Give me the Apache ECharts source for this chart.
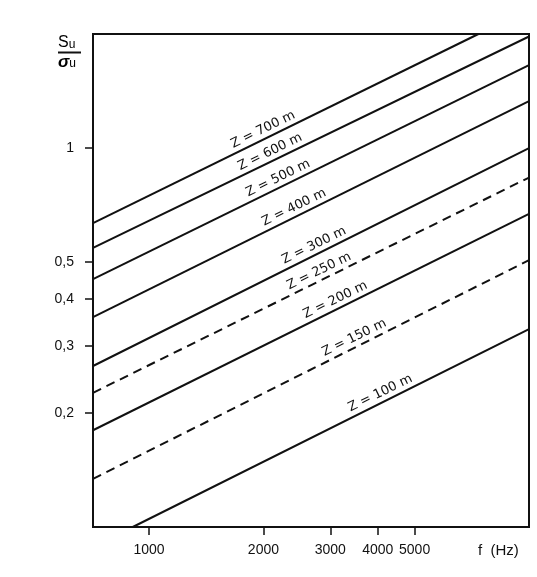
<!DOCTYPE html>
<html>
<head>
<meta charset="utf-8">
<script src="https://cdn.jsdelivr.net/npm/echarts@6/dist/echarts.min.js"></script>
<style>
  html, body { margin: 0; padding: 0; background: #fff; }
  #chart { width: 537px; height: 577px; }
</style>
</head>
<body>
<div id="chart"></div>
<script>
// Z levels, each drawn as a straight line on the log-log grid
const zLevels = [700, 600, 500, 400, 300, 250, 200, 150, 100];
// line end points (f in Hz, Su/σu)
const startF = [712, 712, 712, 712, 712, 712, 712, 712, 906];
const startV = [0.634, 0.545, 0.451, 0.358, 0.266, 0.226, 0.180, 0.134, 0.1];
const endF = [7360, 10000, 10000, 10000, 10000, 10000, 10000, 10000, 10000];
const endV = [2.0, 1.97, 1.656, 1.33, 1.0, 0.836, 0.670, 0.506, 0.333];
// where along each line the "Z = ... m" text sits
const labelF = [2045, 2133, 2240, 2467, 2785, 2872, 3168, 3553, 4160];
// tick labels
const xTicks = [1000, 2000, 3000, 4000, 5000];
const yTicks = [0.2, 0.3, 0.4, 0.5, 1];
const dashedLevels = [250, 150];

const FONT = "'Liberation Sans', Arial, sans-serif";
const myChart = echarts.init(document.getElementById("chart"));

// value on a line at frequency f (straight line in log-log)
function lineValueAt(i, f) {
    const t = Math.log(f / startF[i]) / Math.log(endF[i] / startF[i]);
    return Math.exp(Math.log(startV[i]) + t * Math.log(endV[i] / startV[i]));
}

const series = zLevels.map((z, i) => ({
    name: "Z = " + z + " m",
    type: "line",
    data: [[startF[i], startV[i]], [endF[i], endV[i]]],
    symbol: "none",
    silent: true,
    lineStyle: {
        color: "#111",
        width: 2,
        type: dashedLevels.includes(z) ? [9, 6] : "solid",
    },
    markPoint: {
        symbol: "circle",
        symbolSize: 0,
        silent: true,
        data: [{
            coord: [labelF[i], lineValueAt(i, labelF[i])],
            label: {
                show: true,
                formatter: "Z = " + z + " m",
                position: "inside",
                rotate: 26,
                offset: [0, -9],
                color: "#111",
                fontSize: 13,
                fontFamily: "'DejaVu Sans', sans-serif",
            },
        }],
    },
}));

const option = {
    animation: false,
    grid: {
        left: 93,
        right: 8,
        top: 34,
        bottom: 50,
        show: true,
        borderColor: "#111",
        borderWidth: 2,
    },
    xAxis: {
        type: "log",
        logBase: 10,
        min: 712,
        max: 10000,
        axisLine: { show: true, lineStyle: { color: "#111", width: 2 } },
        axisTick: { show: true, customValues: xTicks, length: 8, lineStyle: { color: "#111", width: 1.5 } },
        minorTick: { show: false },
        splitLine: { show: false },
        axisLabel: {
            customValues: xTicks,
            margin: 16,
            color: "#111",
            fontSize: 14,
            fontFamily: FONT,
            formatter: (v) => String(v),
        },
    },
    yAxis: {
        type: "log",
        logBase: 10,
        min: 0.1,
        max: 2,
        axisLine: { show: true, lineStyle: { color: "#111", width: 2 } },
        axisTick: { show: true, customValues: yTicks, length: 8, lineStyle: { color: "#111", width: 1.5 } },
        minorTick: { show: false },
        splitLine: { show: false },
        axisLabel: {
            customValues: yTicks,
            margin: 19,
            color: "#111",
            fontSize: 14,
            fontFamily: FONT,
            formatter: (v) => String(v).replace(".", ","),
        },
    },
    graphic: [
        {
            // axis title Su / σu
            type: "text",
            left: 58,
            top: 35,
            style: {
                text: "{s|S}{u|u}\n{bar|}\n{g|σ}{u|u}",
                rich: {
                    s: { fontSize: 16, fontFamily: FONT, color: "#111", lineHeight: 16 },
                    g: { fontSize: 17, fontFamily: FONT, fontWeight: "bold", fontStyle: "italic", color: "#111", lineHeight: 16 },
                    u: { fontSize: 12, fontFamily: FONT, color: "#111", verticalAlign: "bottom", lineHeight: 16 },
                    bar: { width: 23, height: 2, lineHeight: 3, backgroundColor: "#111" },
                },
            },
        },
        {
            type: "text",
            left: 478,
            top: 543,
            style: { text: "f  (Hz)", fontSize: 15, fontFamily: FONT, fill: "#111" },
        },
    ],
    series,
};

myChart.setOption(option);
</script>
</body>
</html>
